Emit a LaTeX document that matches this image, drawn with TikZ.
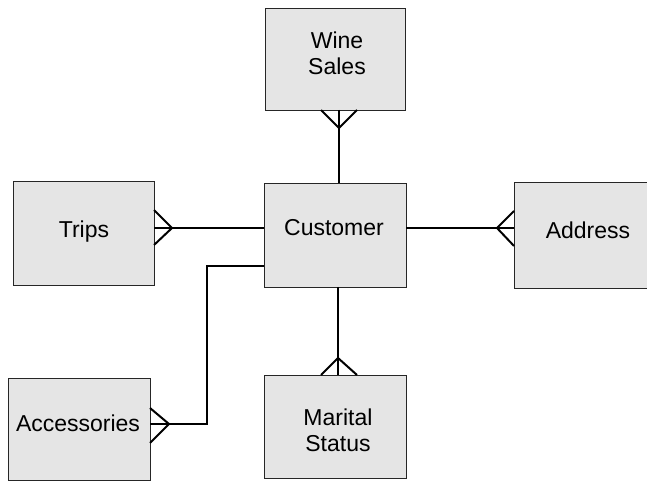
\documentclass[tikz,border=0pt]{standalone}
\usepackage{fontspec}
\setmainfont{Liberation Sans}
\begin{document}
\begin{tikzpicture}[x=1pt,y=1pt,
  entity/.style={draw=black!85, line width=0.9pt, fill=black!10, inner sep=0pt, outer sep=0pt},
  label/.style={font=\fontsize{23}{26}\selectfont, align=center, inner sep=0pt},
  rel/.style={line width=2.8pt, line cap=butt},
  foot/.style={line width=2pt, line join=miter}]
\useasboundingbox (0,0) rectangle (647,482);

% entity boxes
\node[entity, minimum width=140, minimum height=102] (ws) at (335,423) {};
\node[entity, minimum width=142, minimum height=104] (cu) at (335,247) {};
\node[entity, minimum width=141, minimum height=104] (tr) at (83.5,249) {};
\node[entity, minimum width=140, minimum height=106] (ad) at (584,247) {};
\node[entity, minimum width=142, minimum height=102] (ac) at (79,53) {};
\node[entity, minimum width=142, minimum height=103] (ms) at (335,55.5) {};

% entity names
\node[label] (wst) at (337,429) {Wine\\Sales};
\node[label] (cut) at (334,254) {Customer};
\node[label] (trt) at (84,250) {Trips};
\node[label] (adt) at (588,252) {Address};
\node[label] (act) at (78,59) {Accessories};
\node[label] (mst) at (338,52) {Marital\\Status};

% Wine Sales -- Customer
\draw[rel] ([xshift=4pt]ws.south) -- ([xshift=4pt]cu.north);
\draw[foot] ([xshift=-14pt]ws.south) -- ([xshift=4pt,yshift=-18pt]ws.south) -- ([xshift=22pt]ws.south);

% Trips -- Customer
\draw[rel] ([yshift=5pt]tr.east) -- ([yshift=5pt]tr.east -| cu.west);
\draw[foot] ([yshift=23pt]tr.east) -- ([xshift=18pt,yshift=5pt]tr.east) -- ([yshift=-12pt]tr.east);

% Customer -- Address
\draw[rel] ([yshift=7pt]cu.east) -- ([yshift=7pt]cu.east -| ad.west);
\draw[foot] ([yshift=24pt]ad.west) -- ([xshift=-17pt,yshift=7pt]ad.west) -- ([yshift=-11pt]ad.west);

% Accessories -- Customer
\draw[rel] ([yshift=5pt]ac.east) -| ([xshift=-57pt,yshift=-31pt]cu.west) -- ([yshift=-31pt]cu.west);
\draw[foot] ([yshift=21pt]ac.east) -- ([xshift=19pt,yshift=5pt]ac.east) -- ([yshift=-14pt]ac.east);

% Customer -- Marital Status
\draw[rel] ([xshift=3pt]cu.south) -- ([xshift=3pt]ms.north);
\draw[foot] ([xshift=-14pt]ms.north) -- ([xshift=3pt,yshift=17pt]ms.north) -- ([xshift=22pt]ms.north);
\end{tikzpicture}
\end{document}
